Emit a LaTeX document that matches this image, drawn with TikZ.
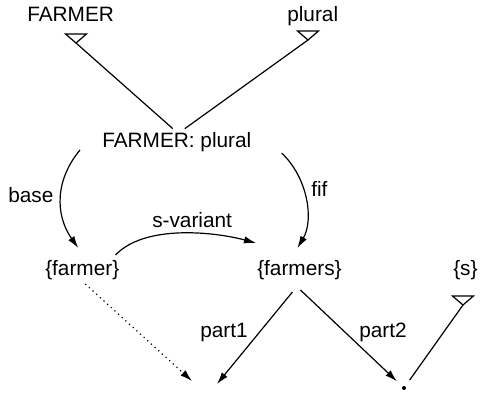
\documentclass[tikz,border=0pt]{standalone}
\usepackage{fontspec}
\setmainfont{Liberation Sans}
\usetikzlibrary{arrows.meta}
\begin{document}
\begin{tikzpicture}[x=0.75pt,y=-0.75pt,
  every node/.style={inner sep=0pt, font=\fontsize{15.6}{18}\selectfont},
  lab/.style={anchor=base west},
  link/.style={line width=0.9pt},
  arr/.style={line width=0.9pt, -{Latex[length=9pt,width=5.5pt]}},
  dotline/.style={arr, dash pattern=on 0.9pt off 2.8pt},
  marker/.style={line width=0.9pt, line join=miter}]
\useasboundingbox (0,0) rectangle (480,395);

% text nodes
\node[lab] (F)  at (27,22)   {FARMER};
\node[lab] (P)  at (287,22)  {plural};
\node[lab] (FP) at (102,148) {FARMER: plural};
\node[lab] (fa) at (45,276)  {\{farmer\}};
\node[lab] (fs) at (257,276) {\{farmers\}};
\node[lab] (S)  at (453,276) {\{s\}};

% edge labels
\node[lab] (lbase) at (8,203)   {base};
\node[lab] (lfif)  at (311,197) {fif};
\node[lab] (lsv)   at (152,228) {s-variant};
\node[lab] (lp1)   at (200,338) {part1};
\node[lab] (lp2)   at (359,338) {part2};

% inheritance markers (open triangles)
\coordinate (tF) at (76,43);
\coordinate (tP) at (308,40);
\coordinate (tS) at (463,305);
\foreach \t in {tF,tP,tS}
  \draw[marker] (\t) -- ++(-10.5,-9) -- ++(21,0) -- cycle;

% the dot and the empty target
\node[circle, minimum size=14.25pt] (dot) at (404,388) {};
\fill (dot.center) circle (2);
\coordinate (e1) at (192,381);
\coordinate (e2) at (217,384);

% connectors
\draw[link] (tF) -- ([shift={(-4,-4)}]FP.north);
\draw[link] (tP) -- ([shift={(8,-4)}]FP.north);
\draw[link] (tS) -- (dot);

\draw[arr] ([shift={(-22,2)}]FP.base west)
  .. controls (55,180) and (55,215) .. ([shift={(-4,-28)}]fa.base);
\draw[arr] ([shift={(30,5)}]FP.base east)
  .. controls (308,178) and (314,220) .. ([shift={(-2,-28)}]fs.base);
\draw[arr] ([shift={(-4,-21)}]fa.base east)
  .. controls (145,224) and (215,232) .. ([shift={(-1,-33)}]fs.base west);

\draw[dotline] ([shift={(3,8)}]fa.base) -- (e1);
\draw[arr] ([shift={(-7,16)}]fs.base) -- (e2);
\draw[arr] ([shift={(1,14)}]fs.base) -- (dot);
\end{tikzpicture}
\end{document}
